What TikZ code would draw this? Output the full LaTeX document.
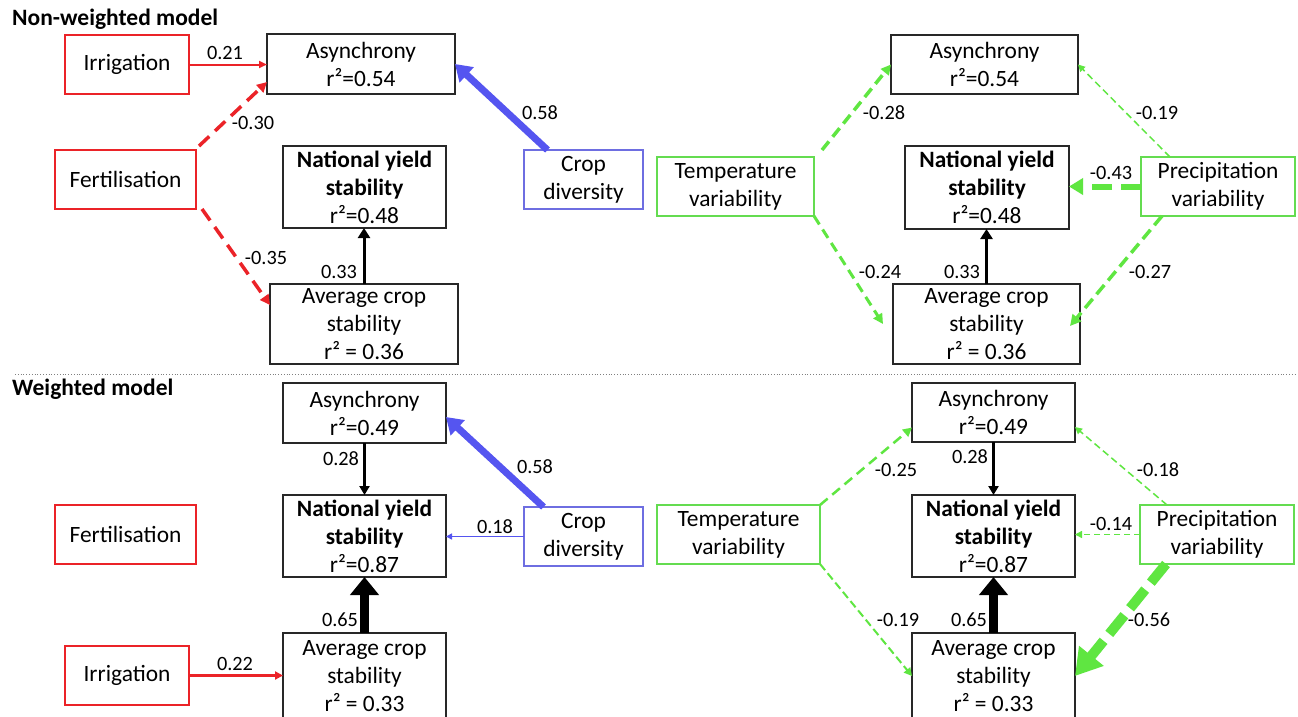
\documentclass[tikz,border=0pt]{standalone}
\usepackage{fontspec}
\setmainfont{Carlito}
\usetikzlibrary{arrows.meta}
\definecolor{rd}{RGB}{235,35,40}
\definecolor{bl}{RGB}{85,85,240}
\definecolor{blbox}{RGB}{110,110,225}
\definecolor{gr}{RGB}{95,230,65}
\definecolor{grbox}{RGB}{100,220,80}
\definecolor{boxgray}{RGB}{40,40,40}
\newcommand\NodeFnt{\fontsize{23.4}{28}\selectfont}
\newcommand\LabFnt{\fontsize{20.3}{24}\selectfont}
\newcommand\TitleFnt{\fontsize{23.5}{28}\selectfont\bfseries}
\begin{document}
\begin{tikzpicture}[x=1pt,y=-1pt,
  box/.style={draw=boxgray, line width=1.6pt, inner sep=0pt, outer sep=0pt, align=center, font=\NodeFnt},
  rbox/.style={box, draw=rd, line width=1.3pt},
  bbox/.style={box, draw=blbox, line width=1.3pt},
  gbox/.style={box, draw=grbox, line width=1.3pt},
  wh/.style 2 args={minimum width=#1pt, minimum height=#2pt},
  lab/.style={font=\LabFnt, inner sep=0pt},
  ttl/.style={font=\TitleFnt, inner sep=0pt, anchor=west},
  ahead/.style 2 args={-{Triangle[length=#1pt,width=#2pt]}},
  dsh/.style 2 args={dash pattern=on #1pt off #2pt},
]
\useasboundingbox (0,0) rectangle (1298,716);
\fill[white] (0,0) rectangle (1298,716);

% titles and separator
\node[ttl] (t1) at (12,19) {Non-weighted model};
\node[ttl] (t2) at (12,389) {Weighted model};
\draw[gray, line width=0.8pt, dotted] (15,374) -- (1295,374);

% ---------- top panel nodes ----------
\node[rbox, wh={124}{59}] (irr1) at (127,64.5) {Irrigation};
\node[box, wh={188}{60}] (as1) at (361,64) {Asynchrony\\r²=0.54};
\node[rbox, wh={141}{59}] (fert1) at (125.5,179.5) {Fertilisation};
\node[box, wh={163}{82}] (ny1) at (364.5,187) {\textbf{National yield}\\\textbf{stability}\\r²=0.48};
\node[box, wh={188}{80}] (av1) at (364,324) {Average crop\\stability\\r² = 0.36};
\node[bbox, wh={119}{59}] (cd1) at (583.5,179.5) {Crop\\diversity};
\node[gbox, wh={157}{59}] (tv1) at (735.5,186.5) {Temperature\\variability};
\node[box, wh={187}{59}] (as2) at (984.5,64.5) {Asynchrony\\r²=0.54};
\node[box, wh={164}{83}] (ny2) at (987,187.5) {\textbf{National yield}\\\textbf{stability}\\r²=0.48};
\node[box, wh={187}{80}] (av2) at (986.5,324) {Average crop\\stability\\r² = 0.36};
\node[gbox, wh={154}{59}] (pv1) at (1218,186.5) {Precipitation\\variability};

% ---------- bottom panel nodes ----------
\node[box, wh={163}{60}] (as3) at (364.5,413) {Asynchrony\\r²=0.49};
\node[box, wh={163}{82}] (ny3) at (364.5,536) {\textbf{National yield}\\\textbf{stability}\\r²=0.87};
\node[box, wh={163}{86}] (av3) at (364.5,676) {Average crop\\stability\\r² = 0.33};
\node[rbox, wh={141}{59}] (fert2) at (125.5,534.5) {Fertilisation};
\node[rbox, wh={124}{59}] (irr2) at (127,675.5) {Irrigation};
\node[bbox, wh={119}{59}] (cd2) at (583.5,536.5) {Crop\\diversity};
\node[gbox, wh={163}{59}] (tv2) at (738.5,534.5) {Temperature\\variability};
\node[box, wh={163}{59}] (as4) at (993.5,412.5) {Asynchrony\\r²=0.49};
\node[box, wh={163}{82}] (ny4) at (993.5,536) {\textbf{National yield}\\\textbf{stability}\\r²=0.87};
\node[box, wh={163}{86}] (av4) at (993.5,676) {Average crop\\stability\\r² = 0.33};
\node[gbox, wh={154}{59}] (pv2) at (1217,534.5) {Precipitation\\variability};

% ---------- top panel connectors ----------
\draw[rd, line width=2pt, ahead={8}{7}] (irr1.east) -- (irr1.east -| as1.west);
\draw[rd, line width=3.5pt, dsh={14}{8}, ahead={10}{10}] ([xshift=3pt,yshift=4pt]fert1.north east) -- ([yshift=-18pt]as1.west);
\draw[rd, line width=3.5pt, dsh={14}{8}, ahead={10}{10}] ([xshift=6pt]fert1.south east) -- ([yshift=19pt]av1.west);
\draw[black, line width=3pt, ahead={10}{12}] (av1.north) -- (av1.north |- ny1.south);
\draw[bl, line width=7pt, ahead={16}{20}] ([xshift=-36pt]cd1.north) -- (as1.east);

\draw[gr, line width=3.5pt, dsh={11}{6}, ahead={10}{10}] ([xshift=8pt,yshift=7pt]tv1.north east) -- (as2.west);
\draw[gr, line width=3pt, dsh={10}{6}, ahead={10}{10}] (tv1.south east) -- ([xshift=-10pt]av2.west);
\draw[gr, line width=1.5pt, dsh={7}{4}, ahead={7}{7}] ([xshift=-48pt]pv1.north) -- (as2.east);
\draw[gr, line width=6pt, dsh={20}{9}, ahead={14}{16}] (pv1.west) -- (pv1.west -| ny2.east);
\draw[gr, line width=3.5pt, dsh={12}{6}, ahead={11}{11}] ([xshift=-56pt]pv1.south) -- ([xshift=-10pt,yshift=-2pt]av2.east);
\draw[black, line width=3pt, ahead={10}{12}] (av2.north) -- (av2.north |- ny2.south);

% ---------- bottom panel connectors ----------
\draw[black, line width=2.5pt, ahead={9}{10}] (as3.south) -- (ny3.north);
\draw[black, line width=9pt, ahead={18}{28}] (av3.north) -- (ny3.south);
\draw[rd, line width=3pt, ahead={8}{8}] (irr2.east) -- (irr2.east -| av3.west);
\draw[bl, line width=7pt, ahead={16}{20}] ([xshift=-40pt]cd2.north) -- ([yshift=-4pt]as3.east);
\draw[bl, line width=1.5pt, ahead={6}{6}] (cd2.west) -- (cd2.west -| ny3.east);

\draw[gr, line width=2.5pt, dsh={10}{6}, ahead={9}{9}] (tv2.north east) -- ([yshift=-15pt]as4.west);
\draw[gr, line width=2pt, dsh={8}{4}, ahead={8}{8}] (tv2.south east) -- (av4.west);
\draw[black, line width=2.5pt, ahead={9}{10}] (as4.south) -- (ny4.north);
\draw[black, line width=9pt, ahead={18}{28}] (av4.north) -- (ny4.south);
\draw[gr, line width=1.5pt, dsh={7}{4}, ahead={7}{7}] ([xshift=-50pt]pv2.north) -- ([yshift=-14.5pt]as4.east);
\draw[gr, line width=1.5pt, dsh={6}{4}, ahead={7}{7}] (pv2.west) -- (pv2.west -| ny4.east);
\draw[gr, line width=10pt, dsh={24}{9}, ahead={26}{30}] ([xshift=-51pt]pv2.south) -- (av4.east);

% ---------- labels ----------
\node[lab] (l1) at (225,53) {0.21};
\node[lab] (l2) at (253,123) {-0.30};
\node[lab] (l3) at (266,258) {-0.35};
\node[lab] (l4) at (339,272) {0.33};
\node[lab] (l5) at (540,113) {0.58};
\node[lab] (l6) at (884,113) {-0.28};
\node[lab] (l7) at (880,272) {-0.24};
\node[lab] (l8) at (1157,113) {-0.19};
\node[lab] (l9) at (1111,173) {-0.43};
\node[lab] (l10) at (1150,272) {-0.27};
\node[lab] (l11) at (962,272) {0.33};

\node[lab] (m1) at (341,459) {0.28};
\node[lab] (m2) at (340,620) {0.65};
\node[lab] (m3) at (235,664) {0.22};
\node[lab] (m4) at (535,467) {0.58};
\node[lab] (m5) at (495,527) {0.18};
\node[lab] (m6) at (896,470) {-0.25};
\node[lab] (m7) at (970,457) {0.28};
\node[lab] (m8) at (1158,470) {-0.18};
\node[lab] (m9) at (1111,524) {-0.14};
\node[lab] (m10) at (898,620) {-0.19};
\node[lab] (m11) at (969,620) {0.65};
\node[lab] (m12) at (1149,620) {-0.56};
\end{tikzpicture}
\end{document}
